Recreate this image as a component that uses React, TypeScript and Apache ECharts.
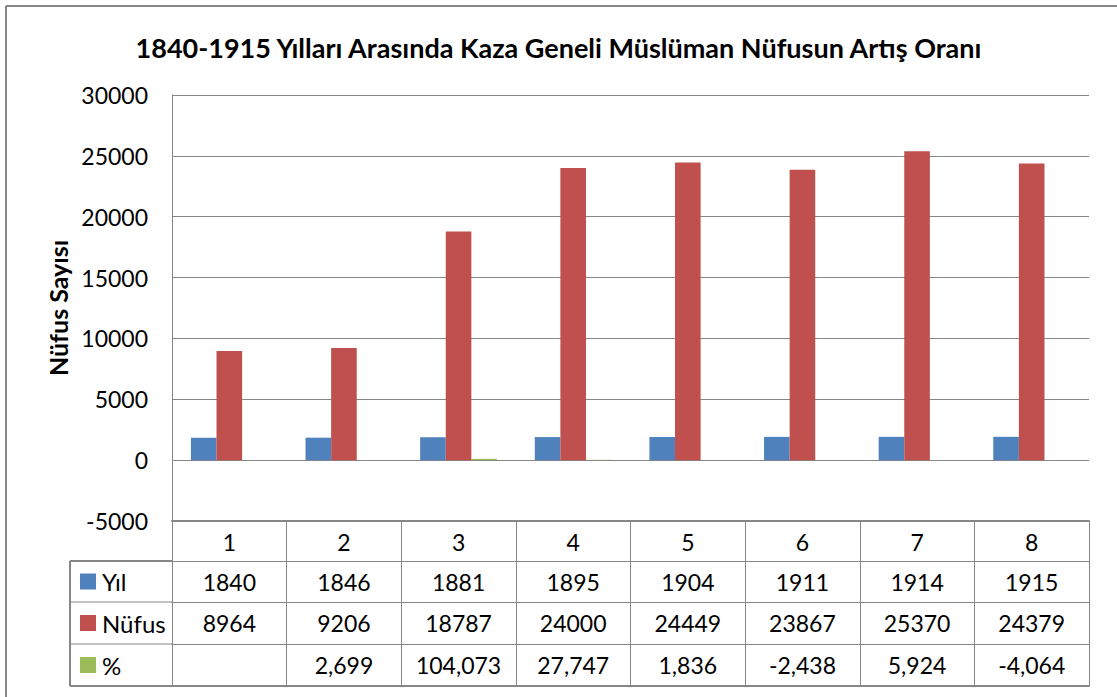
import React, { useEffect, useRef } from "react";
import * as echarts from "echarts";

const title = "1840-1915 Yılları Arasında Kaza Geneli Müslüman Nüfusun Artış Oranı";
const yAxisName = "Nüfus Sayısı";
const categories = ["1", "2", "3", "4", "5", "6", "7", "8"];
const seriesNames = ["Yıl", "Nüfus", "%"];
const yilValues = [1840, 1846, 1881, 1895, 1904, 1911, 1914, 1915];
const nufusValues = [8964, 9206, 18787, 24000, 24449, 23867, 25370, 24379];
const pctValues: (number | null)[] = [null, 2.699, 104.073, 27.747, 1.836, -2.438, 5.924, -4.064];
const colors = ["#4F81BD", "#C0504D", "#9BBB59"];
const yMin = -5000;
const yMax = 30000;
const yStep = 5000;

const W = 1117;
const H = 697;
const GRID_LEFT = 172;
const GRID_RIGHT = 1089;
const GRID_TOP = 95;
const GRID_BOTTOM = 521;
const ROW_LINES = [521, 561, 602, 644, 686];
const TABLE_LEFT = 70;
const LINE_COLOR = "#868686";
const FONT = "Lato, 'Open Sans', sans-serif";
const TEXT_SIZE = 23;

const fmtPct = (v: number | null) => (v == null ? "" : v.toFixed(3).replace(".", ","));

export default function App() {
  const ref = useRef<HTMLDivElement>(null);
  useEffect(() => {
    document.body.style.margin = "0";
    if (!ref.current) return;
    const chart = echarts.init(ref.current, undefined, { renderer: "svg" });

    const rows = [categories, yilValues.map(String), nufusValues.map(String), pctValues.map(fmtPct)];
    const xAxes: any[] = rows.map((data, i) => ({
      type: "category",
      gridIndex: 0,
      position: "bottom",
      offset: ROW_LINES[i] - GRID_BOTTOM,
      data,
      axisLine: { show: true, onZero: false, lineStyle: { color: LINE_COLOR, width: i === 0 ? 2 : 1 } },
      axisTick: {
        show: true,
        inside: false,
        alignWithLabel: false,
        length: ROW_LINES[i + 1] - ROW_LINES[i],
        lineStyle: { color: LINE_COLOR, width: 1 },
      },
      axisLabel: {
        show: true,
        interval: 0,
        margin: 9,
        color: "#000",
        fontFamily: FONT,
        fontSize: TEXT_SIZE,
        lineHeight: 23,
      },
      splitLine: { show: false },
    }));
    xAxes.push({
      type: "category",
      gridIndex: 0,
      position: "bottom",
      offset: ROW_LINES[4] - GRID_BOTTOM,
      data: categories,
      axisLine: { show: true, onZero: false, lineStyle: { color: LINE_COLOR, width: 2 } },
      axisTick: { show: false },
      axisLabel: { show: false },
    });

    const graphics: any[] = [
      { type: "line", shape: { x1: 6, y1: 6, x2: W, y2: 6 }, style: { stroke: LINE_COLOR, lineWidth: 2 } },
      { type: "line", shape: { x1: 6, y1: 6, x2: 6, y2: H }, style: { stroke: LINE_COLOR, lineWidth: 2 } },
      {
        type: "line",
        shape: { x1: TABLE_LEFT, y1: ROW_LINES[1], x2: TABLE_LEFT, y2: ROW_LINES[4] },
        style: { stroke: LINE_COLOR, lineWidth: 2 },
      },
    ];
    for (let i = 1; i < ROW_LINES.length; i++) {
      graphics.push({
        type: "line",
        shape: { x1: TABLE_LEFT, y1: ROW_LINES[i], x2: GRID_LEFT, y2: ROW_LINES[i] },
        style: { stroke: LINE_COLOR, lineWidth: i === 1 || i === 4 ? 2 : 1 },
      });
    }
    seriesNames.forEach((name, i) => {
      const top = ROW_LINES[i + 1];
      const bottom = ROW_LINES[i + 2];
      const cy = (top + bottom) / 2;
      graphics.push({ type: "rect", shape: { x: 80, y: cy - 8, width: 16, height: 16 }, style: { fill: colors[i] } });
      graphics.push({
        type: "text",
        x: 102,
        y: cy,
        style: { text: name, fill: "#000", font: `${TEXT_SIZE + 1}px ${FONT}`, verticalAlign: "middle" },
      });
    });

    chart.setOption({
      animation: false,
      backgroundColor: "#fff",
      title: {
        text: title,
        left: "center",
        top: 29,
        textStyle: { fontFamily: FONT, fontSize: 27, fontWeight: "bold", color: "#000" },
      },
      grid: { left: GRID_LEFT, right: W - GRID_RIGHT, top: GRID_TOP, bottom: H - GRID_BOTTOM, containLabel: false },
      xAxis: xAxes,
      yAxis: {
        type: "value",
        min: yMin,
        max: yMax,
        interval: yStep,
        name: yAxisName,
        nameLocation: "middle",
        nameRotate: 90,
        nameGap: 100,
        nameTextStyle: { fontFamily: FONT, fontSize: 25, fontWeight: "bold", color: "#000" },
        axisLine: { show: true, lineStyle: { color: LINE_COLOR, width: 1 } },
        axisTick: { show: false },
        axisLabel: {
          color: "#000",
          fontFamily: FONT,
          fontSize: TEXT_SIZE,
          margin: 24,
          formatter: (v: number) => String(v),
        },
        splitLine: { show: true, lineStyle: { color: LINE_COLOR, width: 1 } },
      },
      series: [yilValues, nufusValues, pctValues].map((vals, i) => ({
        type: "bar",
        name: seriesNames[i],
        xAxisIndex: 0,
        data: vals,
        itemStyle: { color: colors[i] },
        barGap: "0%",
        barCategoryGap: "33%",
      })),
      graphic: graphics,
    });
    return () => chart.dispose();
  }, []);
  return <div ref={ref} style={{ width: W, height: H }} />;
}
